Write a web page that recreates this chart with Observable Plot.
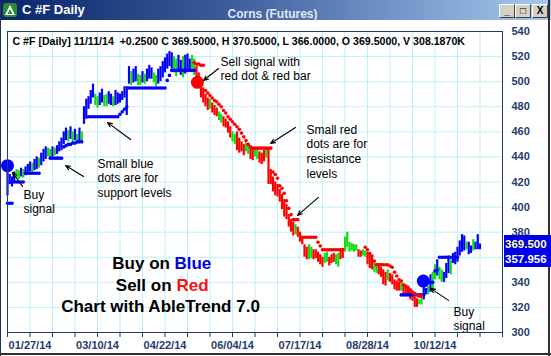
<!DOCTYPE html>
<html><head><meta charset="utf-8">
<script src="https://cdn.jsdelivr.net/npm/d3@7"></script>
<script src="https://cdn.jsdelivr.net/npm/@observablehq/plot@0.6"></script>
<style>
body{margin:0;background:#fff;}
#win{position:relative;width:551px;height:356px;overflow:hidden;background:#fff;font-family:Arial,"Liberation Sans",sans-serif;}
#tb{position:absolute;left:0;top:0;width:551px;height:20px;background:linear-gradient(to right,#0a246a 0%,#3a5a9a 40%,#a6caf0 100%);}
#tbTitle{position:absolute;left:22px;top:2px;color:#fff;font:bold 13px Arial,"Liberation Sans",sans-serif;}
#tbCenter{position:absolute;left:0;width:545px;top:7px;text-align:center;color:#dfe8f5;font:bold 12px Arial,"Liberation Sans",sans-serif;}
.btn{position:absolute;top:4px;width:14px;height:12px;background:#d4d0c8;border:1px solid;border-color:#fff #404040 #404040 #fff;font:bold 10px Arial,sans-serif;color:#000;text-align:center;line-height:12px;}
#icon{position:absolute;left:3px;top:3px;}
#plotwrap{position:absolute;left:0;top:0;width:551px;height:356px;}
#pricebox{position:absolute;left:504px;width:47px;background:#0000ee;font:bold 11.5px Arial,"Liberation Sans",sans-serif;overflow:hidden;}
#pricebox div{position:absolute;left:1px;line-height:13px;white-space:nowrap;}
#bl{position:absolute;left:0;top:0;width:1px;height:356px;background:#20305a;}
#br{position:absolute;left:548px;top:0;width:2px;height:356px;background:#303030;}
#bb{position:absolute;left:0;top:353px;width:551px;height:2px;background:#303030;}
svg g[aria-label="x-axis tick label"] text, svg g[aria-label="y-axis tick label"] text{font-weight:bold;}
</style></head>
<body>
<div id="win">
  <div id="plotwrap"></div>
  <div id="tb">
    <svg id="icon" width="14" height="14"><rect x="0" y="0" width="14" height="14" rx="3" fill="#2a8a3a"/><path d="M7 2 L12 12 L2 12 Z" fill="#fff"/><path d="M7 6 L9.5 11 L4.5 11 Z" fill="#2a8a3a"/></svg>
    <div id="tbTitle">C #F Daily</div>
    <div id="tbCenter">Corns (Futures)</div>
    <div class="btn" style="left:499px">_</div>
    <div class="btn" style="left:515px">&#9633;</div>
    <div class="btn" style="left:532px">X</div>
  </div>
  <div id="bl"></div><div id="br"></div><div id="bb"></div>
  <div id="pricebox"><div id="pb1" style="color:#ffffa0"></div><div id="pb2" style="color:#ffffff"></div></div>
</div>
<script>
// ---- data (trading-day index, prices) ----
const hi = [432,426,424,428,430,429,431,430,432,434,
436,435,438,440,439,443,446,448,447,446,
448,447,449,452,455,460,463,461,464,460,
462,458,463,460,480,486,488,493,498,490,
488,491,494,489,490,492,490,488,493,491,
490,492,496,496,512,508,510,512,506,505,
508,506,510,513,511,507,505,510,512,516,
519,522,524,523,520,518,521,517,520,521,
522,518,521,518,512,507,500,495,490,487,
486,483,481,479,476,474,472,470,468,464,
460,458,460,455,452,450,451,449,447,446,
446,446,444,443,445,446,447,430,424,420,
418,414,410,406,402,394,390,388,386,384,
380,375,370,368,370,368,366,366,364,362,
360,363,364,360,362,363,362,363,366,367,
376,380,372,371,370,370,366,365,366,365,
364,362,360,356,355,355,352,350,348,350,
347,346,342,341,340,340,338,337,336,334,
333,328,327,326,327,336,335,337,346,348,
354,358,352,350,348,355,361,358,363,364,
368,373,378,377,372,372,369,374,372,378,370.5];
const lo = [409,418,416,420,423,422,424,423,425,426,
428,427,429,430,431,433,436,438,440,439,
440,441,442,444,445,450,453,452,454,451,
453,450,452,452,466,470,478,482,487,481,
479,481,483,480,480,482,481,480,481,482,
483,485,487,473,498,497,499,500,497,497,
499,498,500,502,502,499,496,498,500,503,
507,510,512,510,507,504,509,505,503,506,
509,508,510,505,498,496,487,483,480,477,
478,475,473,472,469,467,464,463,459,455,
452,450,445,443,444,441,444,442,438,437,
440,438,435,434,436,439,418,418,412,409,
408,404,398,392,390,384,380,377,378,376,
372,370,360,358,358,359,358,359,356,354,
352,355,356,353,355,356,354,352,358,359,
364,368,364,365,364,365,360,360,361,360,
354,351,350,348,347,346,344,338,337,341,
340,338,334,333,333,333,330,329,329,326,
325,320,320,322,322,326,330,330,332,334,
342,345,342,340,340,343,347,346,355,354,
356,361,364,365,366,362,363,365,366,366,366];
// b = uptrend (blue), r = downtrend (red), g = neutral (green)
const trendCodes = "bbbbggbgbb"+"bgbbgbbbgg"+"bgbbbbbgbg"+"bgbgbbbbbg"+"gbbggbbgbb"+
"bbbbbgbbgg"+"bgbbbggbbb"+"bbbbggbbgb"+"bbggrrrrrr"+"grrrggrrrr"+
"ggrrrrggrr"+"ggrrrgrrrr"+"rrrrrrrrgr"+"rrrrggrrrr"+"rggrrrggrr"+
"ggggggrrgg"+"rrrggrrrrg"+"rrrrrgrrrr"+"rrrggbbgbg"+"gbggbbbgbb"+"bbbbgbbgbbb";
const N = null;
const support = [403,403,403,420,420,420,420,420,427,427,
427,427,427,427,427,N,N,N,N,439,
439,439,439,439,439,448,449,450,450,451,
451,452,452,452,N,N,472,472,472,472,
472,472,472,472,472,472,472,472,472,472,
474,476,478,480,495,495,495,495,495,495,
495,495,495,495,495,495,495,495,495,495,
495,501,505,509,509,509,509,509,509,509,
509,509,509,509,N,N,N,N,N,N,
N,N,N,N,N,N,N,N,N,N,N,N,N,N,N,N,N,N,N,N,
N,N,N,N,N,N,N,N,N,N,N,N,N,N,N,N,N,N,N,N,
N,N,N,N,N,N,N,N,N,N,N,N,N,N,N,N,N,N,N,N,
N,N,N,N,N,N,N,N,N,N,N,N,N,N,N,N,N,N,N,N,
N,N,N,N,N,330,330,330,330,330,
330,330,330,330,330,330,334,340,340,340,
349,350,360,360,360,360,360,360,360,360,360];
const resistance = [N,N,N,N,N,N,N,N,N,N,N,N,N,N,N,N,N,N,N,N,
N,N,N,N,N,N,N,N,N,N,N,N,N,N,N,N,N,N,N,N,
N,N,N,N,N,N,N,N,N,N,N,N,N,N,N,N,N,N,N,N,
N,N,N,N,N,N,N,N,N,N,N,N,N,N,N,N,N,N,N,N,
N,N,N,515,514,514,513,513,493,491,
489,487,485,484,482,480,477,475,472,470,
468,466,464,462,459,456,453,450,448,447,
447,447,447,447,447,447,447,447,428,426,
423,417,415,411,405,399,394,390,390,390,
N,376,376,376,376,376,376,376,372,369,
366,366,366,366,366,366,366,366,366,366,
N,N,N,N,N,N,N,N,N,368,
366,363,361,357,354,354,354,354,354,354,
353,352,348,345,342,341,338,337,336,334,
332,331,330,329,329,N,N,N,N,N,
N,N,N,N,N,N,N,N,N,N,N,N,N,N,N,N,N,N,N,N,N];
// signals
const signalIdx = [0, 84.4, 184.8];
const signalPrice = [433, 499.5, 341];
const signalCode = ["b","r","b"];
// axis ticks
const xTickIdx = d3.range(0, 221, 10);
const xLabelIdx = [10,40,70,100,130,160,190];
const xLabels = ["01/27/14","03/10/14","04/22/14","06/04/14","07/17/14","08/28/14","10/12/14"];
const yTicks = [300,320,340,360,380,400,420,440,460,480,500,520,540];
const yHiddenLabel = 360; // covered by the price box in the reference
const lastClose = 369.5, trendLine = 357.956;
const infoLine = "C #F [Daily] 11/11/14  +0.2500 C 369.5000, H 370.5000, L 366.0000, O 369.5000, V 308.1870K";
// annotations (index, price)
const noteText = ["Buy\nsignal","Small blue\ndots are for\nsupport levels","Sell signal with\nred dot & red bar","Small red\ndots are for\nresistance\nlevels","Buy\nsignal"];
const noteX = [7.1, 40, 94.7, 132.9, 198.2];
const noteY = [414.9, 439.6, 520.9, 466.7, 321.6];
const arrowX1 = [33.8, 54.7, 6.7, 93.8, 128, 138.2, 196];
const arrowY1 = [424.4, 453.9, 416.5, 510.5, 463.5, 407.7, 325.6];
const arrowX2 = [25.8, 44.4, 2.2, 87.1, 116.9, 128.9, 188];
const arrowY2 = [433.2, 467.5, 427.6, 500.9, 450.7, 393.4, 335.2];
const promoText = ["Buy on","Blue","Sell on","Red","Chart with AbleTrend 7.0"];
const promoX = [72.2, 74.2, 72.9, 75.1, 68];
const promoY = [359.9, 359.9, 343.1, 343.1, 325.6];
const promoAnchor = ["end","start","end","start","middle"];
const promoColor = ["#000","#0000e6","#000","#ff1010","#000"];

const bars = hi.map((h, i) => ({i, hi: h, lo: lo[i], c: trendCodes[i]}));
const sup = support.map((v, i) => ({i, v})).filter(d => d.v != null);
const res = resistance.map((v, i) => ({i, v})).filter(d => d.v != null);
const sigs = signalIdx.map((x, k) => ({x, y: signalPrice[k], c: signalCode[k]}));
const notes = noteText.map((t, k) => ({t, x: noteX[k], y: noteY[k]}));
const arrows = arrowX1.map((x1, k) => ({x1, y1: arrowY1[k], x2: arrowX2[k], y2: arrowY2[k]}));
const promo = promoText.map((t, k) => ({t, x: promoX[k], y: promoY[k], a: promoAnchor[k], c: promoColor[k]}));
const labelMap = new Map(xLabelIdx.map((d, k) => [d, xLabels[k]]));

const font = "Arial, 'Liberation Sans', sans-serif";
const grid = "#bfeef6";
const navy = "#1f3b70";

const plot = Plot.plot({
  width: 551, height: 356,
  marginTop: 31, marginBottom: 24, marginLeft: 7, marginRight: 49,
  style: {fontFamily: font, background: "transparent"},
  x: {domain: [0, 220], axis: null},
  y: {domain: [300, 540], axis: null},
  color: {domain: ["b","r","g"], range: ["#0000ff","#ff0000","#11dd11"]},
  marks: [
    Plot.gridX(xTickIdx, {stroke: grid, strokeOpacity: 1}),
    Plot.gridY(yTicks, {stroke: grid, strokeOpacity: 1}),
    Plot.ruleX(bars, {x: "i", y1: "lo", y2: "hi", stroke: "c", strokeWidth: 2.2}),
    Plot.dot(sup, {x: "i", y: "v", r: 1.8, fill: "#0000ff", stroke: "none"}),
    Plot.dot(res, {x: "i", y: "v", r: 1.8, fill: "#ff0000", stroke: "none"}),
    Plot.dot(sigs, {x: "x", y: "y", r: 6.5, fill: "c", stroke: "none"}),
    Plot.arrow(arrows, {x1: "x1", y1: "y1", x2: "x2", y2: "y2", stroke: "#000", strokeWidth: 1.1, headLength: 7, headAngle: 45}),
    Plot.text(notes, {x: "x", y: "y", text: "t", textAnchor: "start", lineAnchor: "top", lineHeight: 1.22, fontSize: 12, fill: "#000"}),
    Plot.text(promo.filter(d => d.a === "end"), {x: "x", y: "y", text: "t", fill: "c", textAnchor: "end", lineAnchor: "top", fontSize: 17, fontWeight: "bold"}),
    Plot.text(promo.filter(d => d.a === "start"), {x: "x", y: "y", text: "t", fill: "c", textAnchor: "start", lineAnchor: "top", fontSize: 17, fontWeight: "bold"}),
    Plot.text(promo.filter(d => d.a === "middle"), {x: "x", y: "y", text: "t", fill: "c", textAnchor: "middle", lineAnchor: "top", fontSize: 17, fontWeight: "bold"}),
    Plot.text([infoLine], {frameAnchor: "top-left", dx: 5, dy: 6, lineAnchor: "top", fontSize: 10.6, fontWeight: "bold", fill: "#000"}),
    Plot.frame({stroke: navy, strokeWidth: 1}),
    Plot.axisX({ticks: xTickIdx, tickSize: 5, tickPadding: 4, tickFormat: d => labelMap.get(d) ?? "", fontSize: 11, fontWeight: "bold", color: navy}),
    Plot.axisY({anchor: "right", ticks: yTicks.filter(v => v !== yHiddenLabel), tickSize: 0, tickPadding: 9, fontSize: 11, fontWeight: "bold", color: navy})
  ]
});
document.getElementById("plotwrap").appendChild(plot);

// current price / trend-line box on the right axis, placed with the y scale
const ys = plot.scale("y");
const yC = ys.apply(lastClose), yT = ys.apply(trendLine);
const boxTop = yC - 10, boxBot = yT + 8;
const pb = document.getElementById("pricebox");
pb.style.top = boxTop + "px";
pb.style.height = (boxBot - boxTop) + "px";
const pb1 = document.getElementById("pb1"), pb2 = document.getElementById("pb2");
pb1.textContent = lastClose.toFixed(3);
pb2.textContent = trendLine.toFixed(3);
pb1.style.top = (yC - boxTop - 6.5) + "px";
pb2.style.top = (yT - boxTop - 6.5) + "px";
</script>
</body></html>
